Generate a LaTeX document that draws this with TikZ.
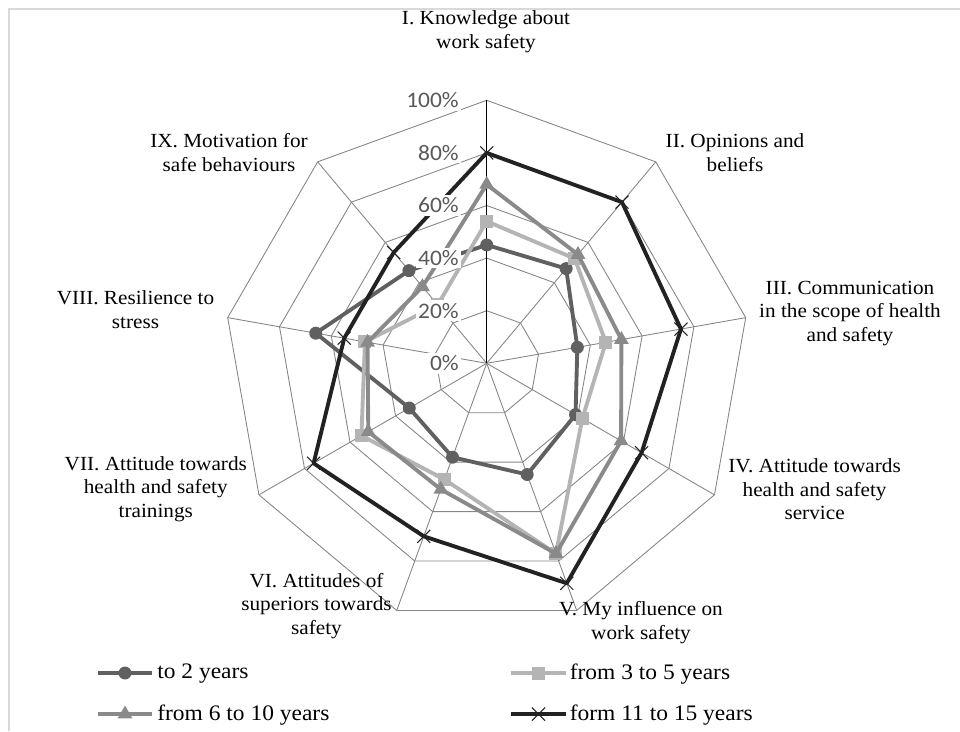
\documentclass[tikz,border=0pt]{standalone}
\usepackage{fontspec}
\setmainfont{Liberation Serif}[FakeStretch=1.06]
\newfontfamily\pctfont{Carlito}[FakeStretch=1.06]
\usetikzlibrary{shapes.geometric, shapes.misc}

\definecolor{gridgray}{RGB}{134,134,134}
\definecolor{framegray}{RGB}{217,217,217}
\definecolor{pctgray}{RGB}{89,89,89}
\definecolor{sOne}{RGB}{96,96,96}
\definecolor{sTwo}{RGB}{180,180,180}
\definecolor{sThree}{RGB}{138,138,138}
\definecolor{sFour}{RGB}{34,34,34}

\tikzset{
  ring/.style={gridgray, line width=0.5pt},
  spoke/.style={gridgray, line width=0.5pt},
  cat/.style={align=center, inner sep=0pt, font=\fontsize{11.4}{13.6}\selectfont},
  pct/.style={anchor=east, fill=white, inner sep=1.5pt, text=pctgray, font=\pctfont\fontsize{12.6}{13}\selectfont},
  series/.style={line width=2.2pt, line join=round},
  dotmark/.style={circle, fill=sOne, inner sep=0pt, minimum size=0.26cm},
  boxmark/.style={rectangle, fill=sTwo, inner sep=0pt, minimum size=0.26cm},
  trimark/.style={regular polygon, regular polygon sides=3, fill=sThree, inner sep=0pt, minimum size=0.34cm},
  crossmark/.style={cross out, draw=sFour, line width=0.6pt, inner sep=0pt, minimum size=0.24cm},
  legtext/.style={anchor=west, inner sep=0pt, font=\fontsize{12.6}{13}\selectfont}
}

\begin{document}
\begin{tikzpicture}[x=0.02cm, y=0.02cm]
\useasboundingbox (0,0) rectangle (960,-731);
\draw[framegray, line width=1.1pt] (9,-731) -- (9,-9) -- (960,-9);

\begin{scope}[shift={(486.7,-363.3)}]
  % grid
  \foreach \l in {1,...,5}
    \draw[ring] (90:{52.6*\l}) \foreach \k in {1,...,8}{ -- ({90-40*\k}:{52.6*\l})} -- cycle;
  \foreach \k in {1,...,8}
    \draw[spoke] (0,0) -- ({90-40*\k}:263);
  \draw[black, line width=0.6pt] (0,0) -- (90:263);

  % to 2 years
  \foreach \v [count=\k from 0] in {45,47,35,39,45,38,34,66,46}
    \coordinate (a\k) at ({90-40*\k}:{2.63*\v});
  \draw[series, sOne] (a0) \foreach \k in {1,...,8}{ -- (a\k)} -- cycle;
  \foreach \k in {0,...,8} \node[dotmark] (adot\k) at (a\k) {};

  % from 3 to 5 years
  \foreach \v [count=\k from 0] in {54,52,46,42,77,47,55,47,29}
    \coordinate (b\k) at ({90-40*\k}:{2.63*\v});
  \draw[series, sTwo] (b0) \foreach \k in {1,...,8}{ -- (b\k)} -- cycle;
  \foreach \k in {0,...,8} \node[boxmark] (bbox\k) at (b\k) {};

  % from 6 to 10 years
  \foreach \v [count=\k from 0] in {68,54,52,59,77,51,52,46,38}
    \coordinate (c\k) at ({90-40*\k}:{2.63*\v});
  \draw[series, sThree] (c0) \foreach \k in {1,...,8}{ -- (c\k)} -- cycle;
  \foreach \k in {0,...,8} \node[trimark] (ctri\k) at (c\k) {};

  % form 11 to 15 years
  \foreach \v [count=\k from 0] in {80,80,75,68,89,70,76,55,55}
    \coordinate (d\k) at ({90-40*\k}:{2.63*\v});
  \draw[series, sFour] (d0) \foreach \k in {1,...,8}{ -- (d\k)} -- cycle;
  \foreach \k in {0,...,8} \node[crossmark] (dx\k) at (d\k) {};

  % scale labels
  \foreach \l [evaluate=\l as \pv using int(20*\l)] in {0,...,5}
    \node[pct] (pct\l) at (-25,{52.6*\l}) {\pv\%};
\end{scope}

% categories
\node[cat] (catI)    at (486,-31.7)   {I. Knowledge about\\work safety};
\node[cat] (catII)   at (735,-152.5)  {II. Opinions and\\beliefs};
\node[cat] (catIII)  at (850,-313.5)  {III. Communication\\in the scope of health\\and safety};
\node[cat] (catIV)   at (814.6,-489.2) {IV. Attitude towards\\health and safety\\service};
\node[cat] (catV)    at (641,-622.5)  {V. My influence on\\work safety};
\node[cat] (catVI)   at (316.5,-606)  {VI. Attitudes of\\superiors towards\\safety};
\node[cat] (catVII)  at (155.8,-489.2) {VII. Attitude towards\\health and safety\\trainings};
\node[cat] (catVIII) at (135.5,-310)  {VIII. Resilience to\\stress};
\node[cat] (catIX)   at (229,-152.5)  {IX. Motivation for\\safe behaviours};

% legend
\coordinate (la1) at (98,-673);   \coordinate (la2) at (152,-673);
\coordinate (lb1) at (511,-673);  \coordinate (lb2) at (566,-673);
\coordinate (lc1) at (98,-714);   \coordinate (lc2) at (152,-714);
\coordinate (ld1) at (511,-714);  \coordinate (ld2) at (566,-714);
\draw[series, sOne] (la1) -- (la2);
\node[dotmark] (lam) at (125,-673) {};
\node[legtext] (lat) at (157,-674) {to 2 years};
\draw[series, sTwo] (lb1) -- (lb2);
\node[boxmark] (lbm) at (538.5,-673) {};
\node[legtext] (lbt) at (569.5,-674) {from 3 to 5 years};
\draw[series, sThree] (lc1) -- (lc2);
\node[trimark] (lcm) at (125,-714) {};
\node[legtext] (lct) at (157,-715) {from 6 to 10 years};
\draw[series, sFour] (ld1) -- (ld2);
\node[crossmark] (ldm) at (538.5,-714) {};
\node[legtext] (ldt) at (569.5,-715) {form 11 to 15 years};
\end{tikzpicture}
\end{document}
